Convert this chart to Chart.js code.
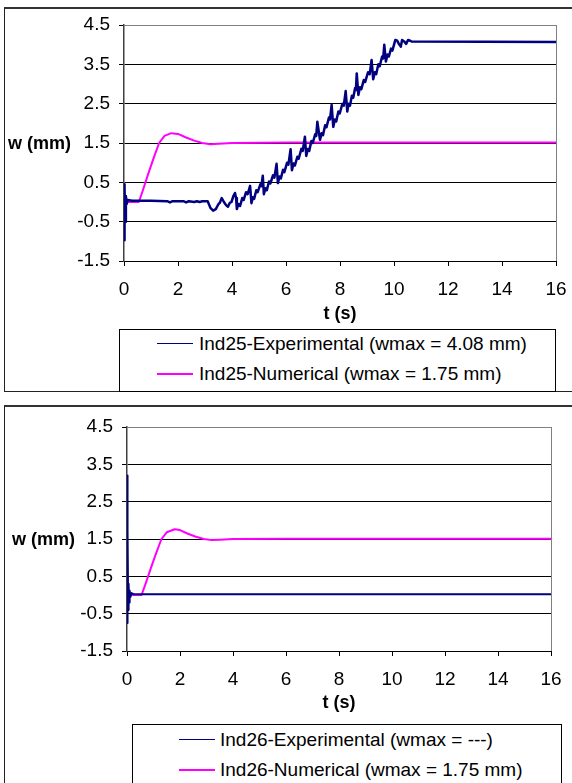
<!DOCTYPE html>
<html>
<head>
<meta charset="utf-8">
<script src="https://cdn.jsdelivr.net/npm/chart.js@4/dist/chart.umd.min.js"></script>
<style>
  body { margin: 0; background: #fff; font-family: Arial, "Liberation Sans", sans-serif; }
  .frame { position: absolute; box-sizing: border-box; border: 1px solid #222; border-top: 2px solid #333; }
  canvas { position: absolute; left: 0; }
  .ytitle { position: absolute; font-weight: bold; font-size: 18px; line-height: 20px; color: #000; }
  .legend { position: absolute; box-sizing: border-box; border: 1px solid #000; background: #fff; }
  .legend .row { position: absolute; left: 0; height: 24px; line-height: 24px; font-size: 19px; color: #000; white-space: nowrap; }
  .legend .sample { position: absolute; top: 11px; width: 36px; }
  .legend .txt { position: absolute; top: 0; }
</style>
</head>
<body>

<div class="frame" style="left:4px; top:7px; width:620px; height:385px;"></div>
<div class="frame" style="left:4px; top:405px; width:620px; height:420px;"></div>

<canvas id="chart1" width="572" height="330" style="top:0px;"></canvas>
<canvas id="chart2" width="572" height="319" style="top:400px;"></canvas>

<div class="ytitle" style="left:8px; top:133px;">w (mm)</div>
<div class="ytitle" style="left:12px; top:529px;">w (mm)</div>

<div id="legend1" class="legend" style="left:119px; top:329px; width:437px; height:63px;"></div>
<div id="legend2" class="legend" style="left:132px; top:724px; width:430px; height:80px;"></div>

<script>
// axis ticks
const xTicks = [0, 2, 4, 6, 8, 10, 12, 14, 16];
const yTicks = [-1.5, -0.5, 0.5, 1.5, 2.5, 3.5, 4.5];

// Ind25 - experimental (time in s, deflection in mm)
const ind25ExpT = [0, 0.01, 0.02, 0.03, 0.05, 0.07, 0.1, 0.14, 0.3, 1.0, 1.6, 1.7, 1.8, 2.2, 2.3, 2.4, 2.6, 2.7, 2.8, 2.9, 3.1,
  3.2, 3.3, 3.4, 3.5, 3.55, 3.62, 3.7, 3.78, 3.85, 3.92, 3.98, 4.05, 4.11, 4.15, 4.18, 4.24, 4.3, 4.38, 4.43, 4.52, 4.58, 4.67,
  4.72, 4.77, 4.82, 4.9, 4.95, 5.05, 5.09, 5.14, 5.18, 5.24, 5.29, 5.37, 5.42, 5.52, 5.57, 5.65,
  5.7, 5.76, 5.81, 5.89, 5.94, 6.04, 6.09, 6.17, 6.22, 6.28, 6.33, 6.42, 6.47, 6.57, 6.62, 6.7,
  6.75, 6.81, 6.86, 6.94, 6.99, 7.08, 7.12, 7.16, 7.26, 7.32, 7.37, 7.45, 7.5, 7.59, 7.63, 7.69,
  7.75, 7.81, 7.86, 7.94, 7.99, 8.09, 8.14, 8.21, 8.27, 8.32, 8.37, 8.44, 8.49, 8.56, 8.59, 8.62,
  8.68, 8.74, 8.79, 8.88, 8.93, 9.04, 9.1, 9.17, 9.23, 9.29, 9.34, 9.42, 9.47, 9.56, 9.6, 9.64,
  9.7, 9.76, 9.81, 9.89, 9.94, 10.05, 10.12, 10.18, 10.25, 10.3, 10.38, 10.45, 10.52, 10.6, 10.65, 16];
const ind25ExpW = [0, 0.45, -0.97, 0.35, -0.5, 0.15, -0.05, 0.05, 0.03, 0.03, 0.02, -0.01, 0.02, 0.02, -0.01, 0.02, 0.0, 0.02, 0.0, 0.02, 0.02,
  -0.15, -0.22, -0.18, -0.05, -0.02, 0.1, 0.0, -0.08, -0.12, -0.02, 0.0, 0.15, 0.23, 0.1, -0.18, -0.05, -0.1, 0.1, 0.05, 0.25, 0.2, 0.41,
  -0.03, 0.12, 0.08, 0.3, 0.25, 0.45, 0.4, 0.67, 0.2, 0.35, 0.3, 0.52, 0.47, 0.68, 0.62, 0.97,
  0.48, 0.65, 0.6, 0.82, 0.76, 1.0, 0.95, 1.34, 0.81, 0.98, 0.93, 1.15, 1.1, 1.35, 1.3, 1.66,
  1.17, 1.35, 1.3, 1.55, 1.5, 1.72, 1.68, 2.04, 1.58, 1.75, 1.7, 1.95, 1.9, 2.15, 2.1, 2.47,
  1.91, 2.1, 2.05, 2.3, 2.25, 2.5, 2.45, 2.82, 2.3, 2.5, 2.45, 2.7, 2.65, 2.9, 2.85, 3.27,
  2.72, 2.92, 2.87, 3.1, 3.05, 3.3, 3.25, 3.61, 3.12, 3.3, 3.25, 3.5, 3.45, 3.7, 3.65, 4.0,
  3.57, 3.75, 3.7, 3.9, 3.85, 4.12, 4.1, 4.02, 3.95, 4.12, 4.08, 4.02, 4.12, 4.1, 4.08, 4.07];

// Ind25 - numerical
const ind25NumT = [0, 0.55, 0.7, 0.9, 1.1, 1.3, 1.5, 1.75, 2.0, 2.3, 2.6, 2.9, 3.2, 3.5, 4.0, 6.0, 16];
const ind25NumW = [0, 0, 0.3, 0.72, 1.12, 1.5, 1.68, 1.75, 1.73, 1.64, 1.56, 1.5, 1.47, 1.48, 1.5, 1.51, 1.51];

// Ind26 - experimental
const ind26ExpT = [0, 0.01, 0.02, 0.03, 0.045, 0.06, 0.08, 0.1, 0.13, 0.17, 0.25, 16];
const ind26ExpW = [0, 3.2, -0.75, 1.75, -0.4, 0.3, -0.2, 0.12, -0.05, 0.05, 0.02, 0.02];

// Ind26 - numerical
const ind26NumT = [0, 0.55, 0.7, 0.9, 1.1, 1.3, 1.5, 1.8, 2.0, 2.3, 2.6, 2.9, 3.2, 3.5, 4.0, 6.0, 16];
const ind26NumW = [0, 0, 0.3, 0.72, 1.12, 1.5, 1.68, 1.76, 1.74, 1.64, 1.56, 1.5, 1.47, 1.48, 1.5, 1.51, 1.51];

const labels1 = ['Ind25-Experimental (wmax = 4.08 mm)', 'Ind25-Numerical (wmax = 1.75 mm)'];
const labels2 = ['Ind26-Experimental (wmax = ---)', 'Ind26-Numerical (wmax = 1.75 mm)'];

const BLUE = '#000080';
const MAGENTA = '#FF00FF';

Chart.defaults.font.family = 'Arial, "Liberation Sans", sans-serif';
Chart.defaults.color = '#000';

function pts(t, w) {
  return t.map((v, i) => ({ x: v, y: w[i] }));
}

function makeChart(id, cfg) {
  return new Chart(document.getElementById(id), {
    type: 'line',
    data: {
      datasets: [
        { label: cfg.labels[0], data: pts(cfg.expT, cfg.expW), borderColor: BLUE, borderWidth: cfg.blueWidth },
        { label: cfg.labels[1], data: pts(cfg.numT, cfg.numW), borderColor: MAGENTA, borderWidth: 2 }
      ]
    },
    options: {
      responsive: false,
      animation: false,
      parsing: false,
      elements: { point: { radius: 0 }, line: { tension: 0, borderJoinStyle: 'round' } },
      layout: { padding: { top: cfg.padTop, right: cfg.padRight, left: 0, bottom: 0 } },
      plugins: { legend: { display: false }, tooltip: { enabled: false } },
      scales: {
        x: {
          type: 'linear', min: 0, max: 16,
          afterBuildTicks: s => { s.ticks = xTicks.map(v => ({ value: v })); },
          afterFit: s => { s.height = cfg.xHeight; s.paddingRight = 10; s.paddingLeft = 5; },
          ticks: { font: { size: 19 }, padding: 12, maxRotation: 0, autoSkip: false },
          grid: {
            color: c => (c.tick && c.tick.value === 16) ? '#808080' : 'rgba(0,0,0,0)',
            tickColor: '#000', tickLength: 5
          },
          border: { color: '#000', width: 1 },
          title: { display: true, text: 't (s)', font: { size: 18, weight: 'bold' }, padding: { top: 0, bottom: 5 } }
        },
        y: {
          type: 'linear', min: -1.5, max: 4.5,
          afterBuildTicks: s => { s.ticks = yTicks.map(v => ({ value: v })); },
          afterFit: s => { s.width = cfg.yWidth; },
          ticks: { font: { size: 19 }, padding: 9, callback: v => String(v) },
          grid: {
            color: c => (c.tick && c.tick.value === 4.5) ? '#808080' : '#000',
            tickColor: '#000', tickLength: 5
          },
          border: { color: '#404040', width: 1.5 }
        }
      }
    }
  });
}

function buildLegend(chart, elId, sampleLeft, textLeft, rowTops) {
  const box = document.getElementById(elId);
  chart.data.datasets.forEach((ds, i) => {
    const row = document.createElement('div');
    row.className = 'row';
    row.style.top = rowTops[i] + 'px';
    row.style.width = '100%';
    const s = document.createElement('span');
    s.className = 'sample';
    s.style.left = sampleLeft + 'px';
    s.style.borderTop = (i === 0 ? 1 : 2) + 'px solid ' + ds.borderColor;
    const t = document.createElement('span');
    t.className = 'txt';
    t.style.left = textLeft + 'px';
    t.textContent = ds.label;
    row.appendChild(s);
    row.appendChild(t);
    box.appendChild(row);
  });
}

const chart1 = makeChart('chart1', {
  labels: labels1, expT: ind25ExpT, expW: ind25ExpW, numT: ind25NumT, numW: ind25NumW,
  padTop: 25, padRight: 16, yWidth: 124, xHeight: 69, blueWidth: 2.5
});
const chart2 = makeChart('chart2', {
  labels: labels2, expT: ind26ExpT, expW: ind26ExpW, numT: ind26NumT, numW: ind26NumW,
  padTop: 27, padRight: 21, yWidth: 127, xHeight: 68, blueWidth: 2
});

buildLegend(chart1, 'legend1', 37, 79, [2, 32]);
buildLegend(chart2, 'legend2', 46, 87, [3, 33]);
</script>
</body>
</html>
